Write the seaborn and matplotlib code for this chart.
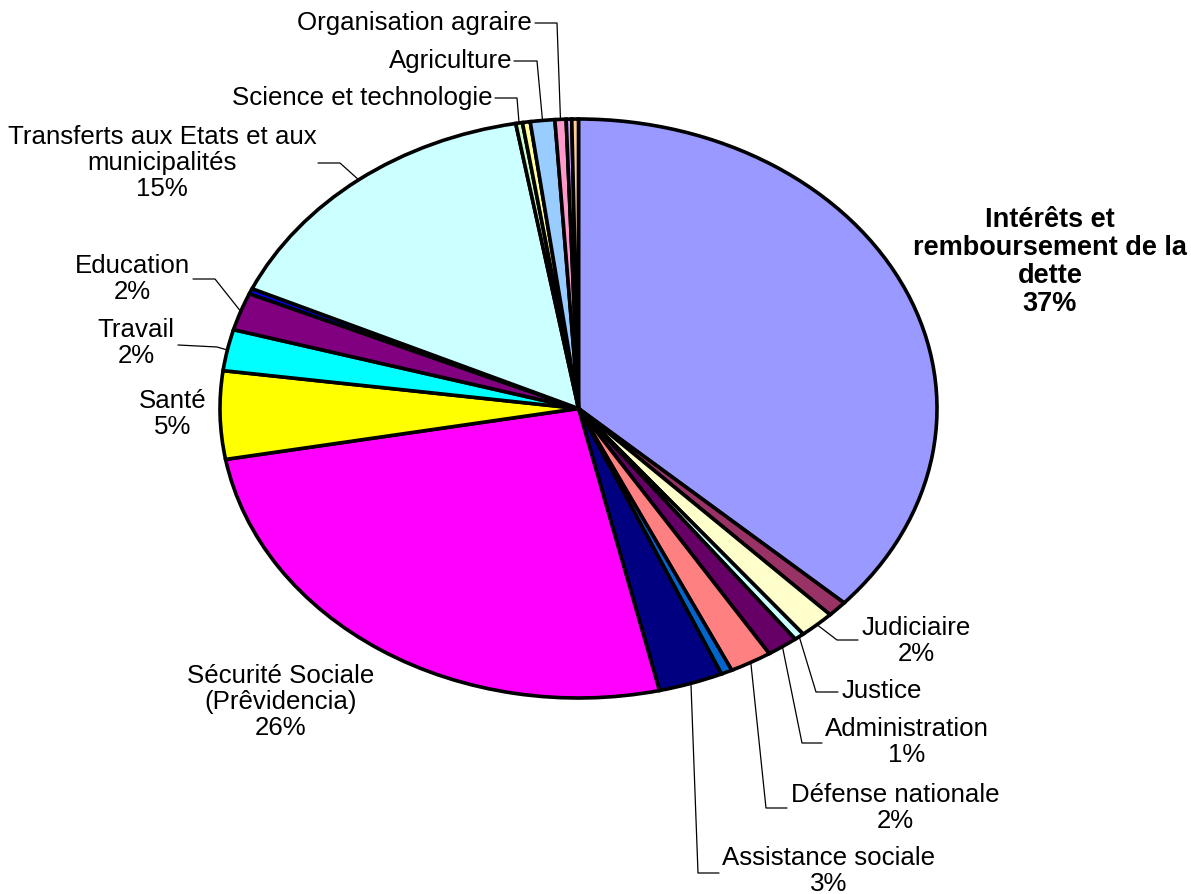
import numpy as np
import matplotlib
matplotlib.use("Agg")
import matplotlib.pyplot as plt
import seaborn as sns

# slices, clockwise from 12 o'clock (percent of budget)
categories = [
    "Intérêts et remboursement de la dette", "Autre 1", "Judiciaire", "Justice",
    "Administration", "Défense nationale", "Autre 2", "Assistance sociale",
    "Sécurité Sociale (Prêvidencia)", "Santé", "Travail", "Education", "Autre 3",
    "Transferts aux Etats et aux municipalités", "Science et technologie", "Autre 4",
    "Agriculture", "Organisation agraire", "Autre 5", "Autre 6",
]
values = [36.7, 0.9, 1.6, 0.45, 1.4, 1.9, 0.5, 2.9, 25.8, 4.9, 2.3, 2.1, 0.3,
          15.4, 0.3, 0.35, 1.1, 0.5, 0.25, 0.3]
colors = ["#9999FF", "#993366", "#FFFFCC", "#CCFFFF", "#660066", "#FF8080",
          "#0066CC", "#000080", "#FF00FF", "#FFFF00", "#00FFFF", "#800080",
          "#0000FF", "#CCFFFF", "#CCFFCC", "#FFFF99", "#99CCFF", "#FF99CC",
          "#CC99FF", "#FFCC99"]

# label text as shown on the chart
label_text = {
    "Intérêts et remboursement de la dette": "Intérêts et\nremboursement de la\ndette\n37%",
    "Judiciaire": "Judiciaire\n2%",
    "Justice": "Justice",
    "Administration": "Administration\n1%",
    "Défense nationale": "Défense nationale\n2%",
    "Assistance sociale": "Assistance sociale\n3%",
    "Sécurité Sociale (Prêvidencia)": "Sécurité Sociale\n(Prêvidencia)\n26%",
    "Santé": "Santé\n5%",
    "Travail": "Travail\n2%",
    "Education": "Education\n2%",
    "Transferts aux Etats et aux municipalités": "Transferts aux Etats et aux\nmunicipalités\n15%",
    "Science et technologie": "Science et technologie",
    "Agriculture": "Agriculture",
    "Organisation agraire": "Organisation agraire",
}

# label layout in pixels (x, y, ha), and leader elbow points
label_pos = {
    "Intérêts et remboursement de la dette": (1050, 262, "center"),
    "Judiciaire": (916, 641, "center"),
    "Justice": (882, 691, "center"),
    "Administration": (907, 742, "center"),
    "Défense nationale": (895, 808, "center"),
    "Assistance sociale": (829, 871, "center"),
    "Sécurité Sociale (Prêvidencia)": (281, 702, "center"),
    "Santé": (173, 414, "center"),
    "Travail": (136, 343, "center"),
    "Education": (132, 279, "center"),
    "Transferts aux Etats et aux municipalités": (162, 163, "center"),
    "Science et technologie": (492, 98, "right"),
    "Agriculture": (512, 61, "right"),
    "Organisation agraire": (532, 23, "right"),
}
leaders = {
    "Judiciaire": [(858, 640), (837, 640)],
    "Justice": [(838, 692), (816, 692)],
    "Administration": [(822, 743), (802, 743)],
    "Défense nationale": [(787, 808), (766, 808)],
    "Assistance sociale": [(719, 873), (698, 873)],
    "Travail": [(178, 345), (217, 347)],
    "Education": [(193, 279), (215, 279)],
    "Transferts aux Etats et aux municipalités": [(318, 163), (340, 163)],
    "Science et technologie": [(495, 98), (517, 98)],
    "Agriculture": [(514, 61), (537, 61)],
    "Organisation agraire": [(535, 23), (557, 23)],
}

sns.set_theme(style="white")
plt.rcParams["font.family"] = ["Liberation Sans", "DejaVu Sans"]

W, H = 1191, 894
fig = plt.figure(figsize=(W / 100, H / 100), dpi=100)
# the pie is drawn stretched into an ellipse
left, right, top, bottom = 220, 937, 119, 698
ax = fig.add_axes([left / W, 1 - bottom / H, (right - left) / W, (bottom - top) / H])

palette = sns.color_palette(colors)
wedges, _ = ax.pie(values, colors=palette, startangle=90, counterclock=False,
                   wedgeprops={"edgecolor": "black", "linewidth": 2.6})
for w in wedges:
    w.set_clip_on(False)
ax.set_aspect("auto")
ax.set_xlim(-1, 1)
ax.set_ylim(-1, 1)
ax.axis("off")

cx, cy = (left + right) / 2, (top + bottom) / 2
rx, ry = (right - left) / 2, (bottom - top) / 2


def to_data(px, py):
    return (px - cx) / rx, (cy - py) / ry


total = sum(values)
cum = 0.0
for name, v in zip(categories, values):
    mid = 90 - 360 * (cum + v / 2) / total
    cum += v
    if name not in label_text:
        continue
    x, y, ha = label_pos[name]
    tx, ty = to_data(x, y)
    bold = name.startswith("Intérêts")
    ax.text(tx, ty, label_text[name], ha=ha, va="center", multialignment="center",
            fontsize=19.5 if bold else 18.6, fontweight="bold" if bold else "normal",
            color="black", linespacing=1.1, clip_on=False)
    if name in leaders:
        pts = [to_data(*p) for p in leaders[name]]
        pts.append((np.cos(np.radians(mid)), np.sin(np.radians(mid))))
        xs, ys = zip(*pts)
        ax.plot(xs, ys, color="black", lw=0.9, clip_on=False)

fig.savefig("out.png", dpi=100, facecolor="white")
